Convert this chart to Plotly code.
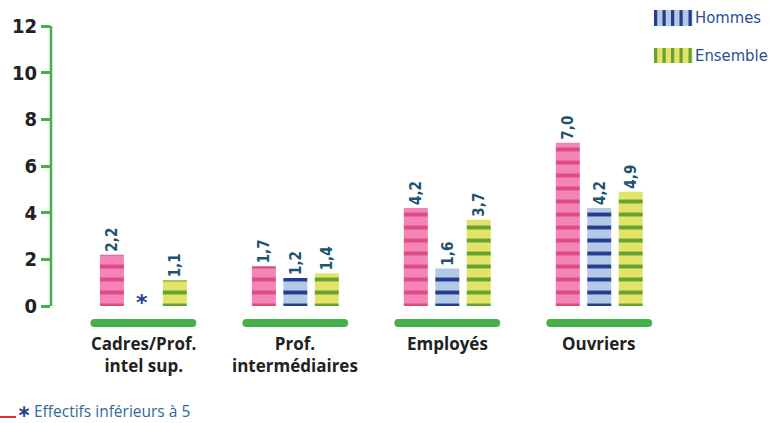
import plotly.graph_objects as go

categories = ["Cadres/Prof.<br>intel sup.", "Prof.<br>intermédiaires", "Employés", "Ouvriers"]
femmes = [2.2, 1.7, 4.2, 7.0]
hommes = [None, 1.2, 1.6, 4.2]
ensemble = [1.1, 1.4, 3.7, 4.9]
y_ticks = [0, 2, 4, 6, 8, 10, 12]

def fmt(v):
    return "" if v is None else f"{v:.1f}".replace(".", ",")

xpos = list(range(len(categories)))
W = 0.158
STEP = 0.207
NARROW = "DejaVu Sans Condensed, Liberation Sans Narrow, sans-serif"

series = [
    ("Femmes", femmes, "#F285B5", "#DE4A82", -STEP),
    ("Hommes", hommes, "#B4C8E8", "#233E8E", 0.0),
    ("Ensemble", ensemble, "#E3E467", "#64A232", STEP),
]

W_PX, H_PX = 775, 423
ML, MR, MT, MB = 51, 87, 26, 89
PW = W_PX - ML - MR
PH = H_PX - MT - MB
Y0 = -1.2

def px_x(px):
    return (px - ML) / PW

def px_y(py):
    return 1 - (py - MT) / PH

fig = go.Figure()
label_font = dict(family=NARROW, size=17, color="#1D5470")
for name, vals, bg, fg, off in series:
    fig.add_trace(go.Bar(
        x=xpos, y=vals, name=name, width=W, offset=off - W / 2,
        marker=dict(color=bg, line=dict(width=0),
                    pattern=dict(shape="-", fgcolor=fg, bgcolor=bg, size=13, solidity=0.3, fillmode="replace")),
        text=[f"<b>{fmt(v)}</b>" for v in vals], textposition="outside", textangle=-90,
        textfont=label_font, cliponaxis=False, showlegend=False, hoverinfo="skip",
    ))

# green underbars for each group
for i in xpos:
    fig.add_trace(go.Scatter(
        x=[i - 0.322, i + 0.322], y=[-0.73, -0.73], mode="lines+markers",
        line=dict(color="#45B04A", width=8), marker=dict(color="#45B04A", size=8, line=dict(width=0)),
        showlegend=False, hoverinfo="skip",
    ))

# y axis line from 0 to 12
fig.add_shape(type="line", xref="paper", yref="y", x0=0, x1=0, y0=0, y1=12,
              line=dict(color="#45B04A", width=2.5))

# asterisk for missing value
fig.add_annotation(x=-0.012, y=-0.45, xref="x", yref="y", text="<b>*</b>", showarrow=False,
                   yanchor="bottom", font=dict(family="DejaVu Sans", size=22, color="#2B3F8E"))

# category labels
for i, c in enumerate(categories):
    fig.add_annotation(x=i, y=px_y(330), xref="x", yref="paper", text=f"<b>{c}</b>", showarrow=False,
                       yanchor="top", align="center",
                       font=dict(family="Open Sans", size=17, color="#222222"))

# manual legend
for (y0, y1, bg, fg, label) in [(10, 26, "#B4C8E8", "#233E8E", "Hommes"), (48, 63, "#E3E467", "#64A232", "Ensemble")]:
    fig.add_shape(type="rect", xref="paper", yref="paper", x0=px_x(654), x1=px_x(692.5),
                  y0=px_y(y1), y1=px_y(y0), fillcolor=bg, line=dict(width=0), layer="above")
    for sx in [654, 662.5, 671, 679.5, 688.5]:
        fig.add_shape(type="rect", xref="paper", yref="paper", x0=px_x(sx), x1=px_x(sx + 3.2),
                      y0=px_y(y1), y1=px_y(y0), fillcolor=fg, line=dict(width=0), layer="above")
    fig.add_annotation(x=px_x(693), y=px_y((y0 + y1) / 2), xref="paper", yref="paper", text=label,
                       showarrow=False, xanchor="left", yanchor="middle",
                       font=dict(family=NARROW, size=16.5, color="#2C4C9C"))

# footnote
fig.add_shape(type="line", xref="paper", yref="paper", x0=px_x(0), x1=px_x(16),
              y0=px_y(417), y1=px_y(417), line=dict(color="#E03030", width=2))
fig.add_annotation(x=px_x(24), y=px_y(411), xref="paper", yref="paper", text="<b>∗</b>",
                   showarrow=False, xanchor="center", yanchor="middle",
                   font=dict(family="DejaVu Sans", size=17, color="#2B3F8E"))
fig.add_annotation(x=px_x(32), y=px_y(411), xref="paper", yref="paper",
                   text="Effectifs inférieurs à 5",
                   showarrow=False, xanchor="left", yanchor="middle",
                   font=dict(family="Open Sans", size=15.5, color="#2E6A9B"))

fig.update_layout(
    width=W_PX, height=H_PX, margin=dict(l=ML, r=MR, t=MT, b=MB),
    plot_bgcolor="white", paper_bgcolor="white", barmode="overlay",
    xaxis=dict(range=[-0.608, 3.584], showgrid=False, zeroline=False, showline=False,
               showticklabels=False, ticks=""),
    yaxis=dict(range=[Y0, 12], tickvals=y_ticks, ticktext=[f"<b>{t}</b>" for t in y_ticks],
               showgrid=False, zeroline=False, showline=False,
               ticks="outside", ticklen=9, tickwidth=2.5, tickcolor="#45B04A",
               tickfont=dict(family=NARROW, size=20, color="#222222")),
    showlegend=False,
)

fig.write_html("out.html", config={"displayModeBar": False},
               post_script="document.body.style.margin='0px';document.body.style.padding='0px';")
